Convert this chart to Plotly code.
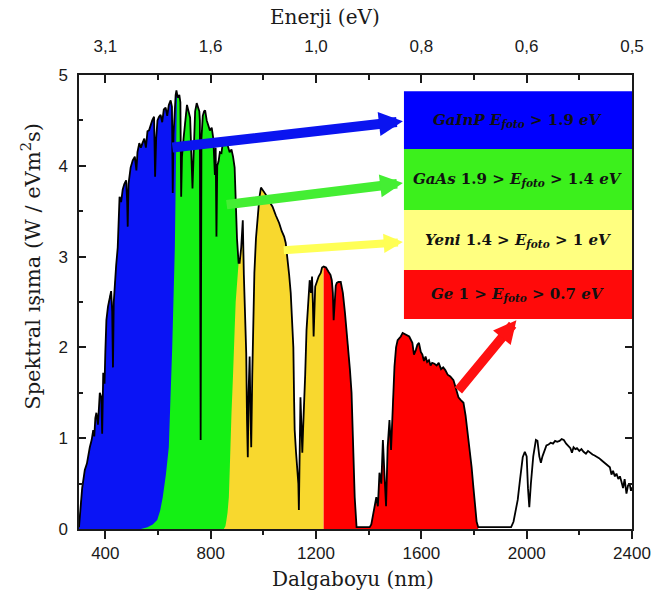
import plotly.graph_objects as go

# Solar spectral irradiance vs wavelength (nm)
wavelength_nm = [
    300, 305, 312, 322, 330, 341, 348, 354, 358, 362, 366, 372, 379, 385, 388, 392, 397, 400,
    404, 410, 416, 422, 426, 429, 432, 435, 441, 447, 451, 454, 460, 466, 472, 479, 483, 485,
    488, 496, 504, 512, 518, 522, 529, 535, 541, 548, 554, 560, 566, 572, 578, 585, 589, 593,
    598, 604, 610, 616, 622, 629, 635, 641, 648, 653, 656, 659, 663, 667, 670, 675, 681, 685,
    688, 691, 697, 704, 710, 716, 722, 727, 731, 735, 741, 747, 752, 757, 759, 762, 765, 770,
    775, 779, 785, 791, 797, 804, 810, 816, 819, 822, 825, 830, 835, 841, 848, 854, 860, 866,
    872, 879, 885, 891, 896, 900, 906, 910, 916, 922, 926, 930, 935, 938, 941, 944, 948, 951,
    954, 958, 962, 966, 972, 979, 985, 991, 1000, 1010, 1020, 1035, 1048, 1060, 1070, 1079,
    1085, 1091, 1098, 1104, 1110, 1114, 1117, 1119, 1124, 1129, 1133, 1135, 1138, 1141, 1145,
    1148, 1151, 1154, 1159, 1164, 1170, 1176, 1181, 1185, 1188, 1191, 1194, 1197, 1203, 1210,
    1218, 1223, 1229, 1238, 1248, 1255, 1260, 1264, 1267, 1271, 1275, 1279, 1285, 1294, 1302,
    1310, 1316, 1323, 1329, 1335, 1341, 1347, 1354, 1404, 1410, 1420, 1429, 1435, 1441, 1448,
    1454, 1460, 1466, 1472, 1479, 1485, 1491, 1498, 1504, 1510, 1516, 1522, 1529, 1541, 1554,
    1566, 1572, 1579, 1585, 1591, 1598, 1604, 1610, 1616, 1622, 1629, 1635, 1641, 1650, 1658,
    1666, 1675, 1683, 1691, 1700, 1710, 1722, 1730, 1736, 1741, 1750, 1760, 1768, 1774, 1779,
    1785, 1791, 1798, 1804, 1810, 1816, 1941, 1950, 1958, 1966, 1975, 1980, 1985, 1993, 2000,
    2005, 2010, 2016, 2025, 2035, 2041, 2048, 2054, 2060, 2066, 2075, 2083, 2091, 2100, 2108,
    2116, 2125, 2133, 2141, 2150, 2158, 2166, 2172, 2178, 2185, 2191, 2200, 2208, 2216, 2225,
    2233, 2241, 2250, 2258, 2266, 2275, 2283, 2291, 2300, 2308, 2316, 2322, 2328, 2335, 2341,
    2348, 2354, 2360, 2366, 2372, 2379, 2385, 2391, 2396, 2400,
]
irradiance = [
    0.02, 0.25, 0.45, 0.65, 0.72, 0.90, 0.98, 1.09, 1.02, 1.22, 1.28, 1.15, 1.50, 1.45, 1.05, 1.72, 1.60, 1.95,
    2.30, 2.45, 2.56, 2.62, 2.40, 1.78, 2.50, 2.67, 2.90, 3.10, 3.40, 3.66, 3.60, 3.74, 3.80, 3.84, 3.60, 3.33,
    3.80, 3.98, 4.06, 4.10, 3.95, 4.15, 4.25, 4.20, 4.25, 4.30, 4.20, 4.38, 4.39, 4.45, 4.50, 4.54, 3.88, 4.30,
    4.50, 4.54, 4.56, 4.48, 4.62, 4.64, 4.55, 4.67, 4.72, 4.65, 3.70, 4.35, 4.60, 4.78, 4.83, 4.75, 4.78, 4.70,
    3.66, 4.10, 4.30, 4.55, 4.67, 4.60, 4.53, 4.10, 3.75, 4.10, 4.60, 4.69, 4.65, 4.60, 4.50, 0.98, 4.30, 4.55,
    4.60, 4.61, 4.50, 4.45, 4.39, 4.42, 4.30, 3.90, 4.20, 3.22, 4.00, 4.05, 4.15, 4.14, 4.30, 4.25, 4.26, 4.21,
    4.15, 4.18, 4.10, 3.98, 3.48, 3.20, 2.93, 2.93, 3.10, 3.40, 2.80, 2.30, 1.94, 1.20, 0.79, 1.50, 1.90, 1.30,
    0.90, 1.70, 2.40, 2.82, 3.20, 3.48, 3.65, 3.76, 3.72, 3.68, 3.62, 3.55, 3.45, 3.37, 3.28, 3.22,
    3.15, 3.00, 2.80, 2.60, 2.30, 2.00, 1.40, 1.09, 0.85, 0.68, 0.50, 0.21, 0.90, 1.45, 1.10,
    0.84, 1.10, 1.27, 1.70, 2.19, 2.50, 2.74, 2.60, 2.78, 2.50, 2.12, 2.40, 2.67, 2.72, 2.78,
    2.82, 2.88, 2.89, 2.88, 2.83, 2.80, 2.74, 2.60, 2.30, 2.45, 2.68, 2.71, 2.72, 2.72, 2.60,
    2.38, 2.20, 2.00, 1.75, 1.50, 0.98, 0.35, 0.02, 0.02, 0.05, 0.20, 0.35, 0.25, 0.62, 0.50,
    0.98, 0.60, 0.25, 0.90, 1.20, 0.87, 1.40, 1.79, 2.00, 2.08, 2.10, 2.12, 2.16, 2.14, 2.12,
    2.05, 1.92, 1.97, 2.03, 2.05, 1.95, 1.92, 1.85, 1.90, 1.84, 1.86, 1.80, 1.83, 1.82, 1.80,
    1.83, 1.76, 1.78, 1.75, 1.70, 1.68, 1.64, 1.56, 1.50, 1.45, 1.42, 1.39, 1.25, 1.10, 0.98,
    0.85, 0.68, 0.45, 0.24, 0.08, 0.02, 0.02, 0.08, 0.20, 0.32, 0.55, 0.70, 0.79, 0.85, 0.80,
    0.45, 0.24, 0.50, 0.80, 0.98, 0.97, 0.80, 0.73, 0.80, 0.85, 0.92, 0.93, 0.95, 0.94, 0.97,
    0.96, 0.97, 0.99, 0.98, 0.94, 0.92, 0.89, 0.84, 0.90, 0.88, 0.89, 0.86, 0.88, 0.85, 0.83,
    0.86, 0.84, 0.82, 0.81, 0.80, 0.78, 0.76, 0.74, 0.72, 0.70, 0.68, 0.60, 0.64, 0.58, 0.61,
    0.55, 0.58, 0.52, 0.45, 0.55, 0.39, 0.48, 0.50, 0.42, 0.46,
]

# Absorption edges separating the sub-cells (wavelength nm, irradiance)
gainp_edge_nm = [672, 669, 664, 654, 641, 630, 618, 608, 597, 580, 560, 535]
gainp_edge_val = [4.80, 4.20, 3.10, 2.00, 0.90, 0.60, 0.35, 0.20, 0.10, 0.05, 0.02, 0.00]
gaas_edge_nm = [906, 895, 891, 885, 879, 873, 869, 864, 860, 856, 850]
gaas_edge_val = [2.93, 2.50, 2.19, 1.70, 1.27, 0.70, 0.35, 0.18, 0.10, 0.03, 0.00]
yeni_start_nm = 841
ge_start_nm = 1229
ge_end_nm = 1816

# Energy scale on the top axis
energy_tick_nm = [400, 800, 1200, 1600, 2000, 2400]
energy_tick_text = ["3,1", "1,6", "1,0", "0,8", "0,6", "0,5"]
wl_major = [400, 800, 1200, 1600, 2000, 2400]
wl_minor = [600, 1000, 1400, 1800, 2200]

# Sub-cell boxes: label, colour, top, bottom
cell_labels = [
    "<b><i>GaInP E<sub>foto</sub></i> &gt; 1.9 <i>eV</i></b>",
    "<b><i>GaAs</i> 1.9 &gt; <i>E<sub>foto</sub></i> &gt; 1.4 <i>eV</i></b>",
    "<b><i>Yeni</i> 1.4 &gt; <i>E<sub>foto</sub></i> &gt; 1 <i>eV</i></b>",
    "<b><i>Ge</i> 1 &gt; <i>E<sub>foto</sub></i> &gt; 0.7 <i>eV</i></b>",
]
box_colors = ["#0000FF", "#3CF01C", "#FFFF80", "#FF0A0A"]
box_top = [4.82, 4.185, 3.513, 2.852]
box_bottom = [4.185, 3.513, 2.852, 2.313]
box_left_nm = 1534

# Arrows: tail (nm, value) -> tip (nm, value)
arrow_tail_nm = [649, 855, 1072, 1736]
arrow_tail_val = [4.20, 3.57, 3.07, 1.51]
arrow_tip_nm = [1530, 1530, 1530, 1961]
arrow_tip_val = [4.49, 3.81, 3.16, 2.30]
arrow_colors = ["#0A14F0", "#44EE33", "#FFFF55", "#FF1010"]
arrow_widths = [10, 9.5, 8, 9.5]

FILL_BLUE = "#0A14F5"
FILL_GREEN = "#14F014"
FILL_YELLOW = "#F8D82E"
FILL_RED = "#FF0000"

fig = go.Figure()


def segment(lo, hi):
    xs, ys = [], []
    for w, v in zip(wavelength_nm, irradiance):
        if lo <= w <= hi:
            xs.append(w)
            ys.append(v)
    return xs, ys


# Yellow (third junction) region
yx, yy = segment(yeni_start_nm, ge_start_nm)
fig.add_trace(go.Scatter(x=yx, y=yy, mode="none", fill="tozeroy", fillcolor=FILL_YELLOW,
                         hoverinfo="skip"))

# Green (GaAs) region: spectrum up to the GaAs edge, back down along it
gx, gy = segment(300, gaas_edge_nm[0] - 0.5)
gx = gx + gaas_edge_nm + [300]
gy = gy + gaas_edge_val + [0]
fig.add_trace(go.Scatter(x=gx, y=gy, mode="none", fill="toself", fillcolor=FILL_GREEN,
                         hoverinfo="skip"))

# Blue (GaInP) region
bx, by = segment(300, gainp_edge_nm[0] - 0.5)
bx = bx + gainp_edge_nm + [300]
by = by + gainp_edge_val + [0]
fig.add_trace(go.Scatter(x=bx, y=by, mode="none", fill="toself", fillcolor=FILL_BLUE,
                         hoverinfo="skip"))

# Red (Ge) region
rx, ry = segment(ge_start_nm, ge_end_nm)
fig.add_trace(go.Scatter(x=rx, y=ry, mode="none", fill="tozeroy", fillcolor=FILL_RED,
                         hoverinfo="skip"))

# Spectrum outline
fig.add_trace(go.Scatter(x=wavelength_nm, y=irradiance, mode="lines",
                         line=dict(color="black", width=1.8), hoverinfo="skip"))

# Placeholder trace so the top energy axis is drawn
fig.add_trace(go.Scatter(x=[300, 2400], y=[0, 0], xaxis="x2", mode="lines",
                         line=dict(width=0), opacity=0, hoverinfo="skip"))

# Sub-cell boxes and their labels
for lab, col, top, bot in zip(cell_labels, box_colors, box_top, box_bottom):
    fig.add_shape(type="rect", xref="x", yref="y", x0=box_left_nm, x1=2400, y0=bot, y1=top,
                  fillcolor=col, line=dict(width=0), layer="above")
    fig.add_annotation(x=(box_left_nm + 2400) / 2, y=(top + bot) / 2, xref="x", yref="y",
                       text=lab, showarrow=False,
                       font=dict(family="DejaVu Serif", size=15, color="#111111"))

for tx, ty, hx, hy, col, w in zip(arrow_tail_nm, arrow_tail_val, arrow_tip_nm, arrow_tip_val,
                                  arrow_colors, arrow_widths):
    fig.add_annotation(x=hx, y=hy, ax=tx, ay=ty, xref="x", yref="y", axref="x", ayref="y",
                       text="", showarrow=True, arrowhead=2, arrowsize=0.48, arrowwidth=w,
                       arrowcolor=col, standoff=0, startstandoff=0)

AXIS_COLOR = "#1a1a1a"
TICK_FONT = dict(family="Liberation Sans", size=17, color="#1a1a1a")
TITLE_FONT = dict(family="DejaVu Serif", size=20, color="#1a1a1a")
YTITLE_FONT = dict(family="DejaVu Serif", size=21, color="#1a1a1a")

fig.update_layout(
    width=663, height=598,
    margin=dict(l=79, r=24, t=75, b=69),
    paper_bgcolor="white", plot_bgcolor="white",
    showlegend=False,
    xaxis=dict(range=[300, 2400], tickvals=wl_major, ticks="outside", ticklen=8, tickwidth=1.5,
               tickcolor=AXIS_COLOR, showline=True, linecolor=AXIS_COLOR, linewidth=1.5,
               showgrid=False, zeroline=False, tickfont=TICK_FONT,
               minor=dict(tickvals=wl_minor, ticks="outside", ticklen=4, tickwidth=1.5,
                          tickcolor=AXIS_COLOR, showgrid=False)),
    xaxis2=dict(range=[300, 2400], overlaying="x", side="top", tickvals=energy_tick_nm,
                ticktext=energy_tick_text, ticks="inside", ticklen=8, tickwidth=1.5,
                tickcolor=AXIS_COLOR, showline=True, linecolor=AXIS_COLOR, linewidth=1.5,
                showgrid=False, zeroline=False, tickfont=TICK_FONT, ticklabelstandoff=14,
                minor=dict(tickvals=wl_minor, ticks="inside", ticklen=5, tickwidth=1.5,
                           tickcolor=AXIS_COLOR, showgrid=False)),
    yaxis=dict(range=[0, 5], dtick=1, ticks="inside", ticklen=7, tickwidth=1.5,
               tickcolor=AXIS_COLOR, showline=True, linecolor=AXIS_COLOR, linewidth=1.5,
               mirror="ticks", showgrid=False, zeroline=False, tickfont=TICK_FONT,
               ticklabelstandoff=6,
               minor=dict(dtick=0.5, ticks="inside", ticklen=4, tickwidth=1.5,
                          tickcolor=AXIS_COLOR, showgrid=False)),
)

# Axis titles
fig.add_annotation(text="Dalgaboyu (nm)", xref="paper", yref="paper", x=0.496, y=-0.110,
                   showarrow=False, xanchor="center", yanchor="middle", font=TITLE_FONT)
fig.add_annotation(text="Enerji (eV)", xref="paper", yref="paper", x=0.4446, y=1.1278,
                   showarrow=False, xanchor="center", yanchor="middle", font=TITLE_FONT)
fig.add_annotation(text="Spektral ışıma (W / eVm<sup>2</sup>s)", xref="paper", yref="paper",
                   x=-0.0857, y=0.579, showarrow=False, textangle=-90,
                   xanchor="center", yanchor="middle", font=YTITLE_FONT)

fig.write_html("out.html")
